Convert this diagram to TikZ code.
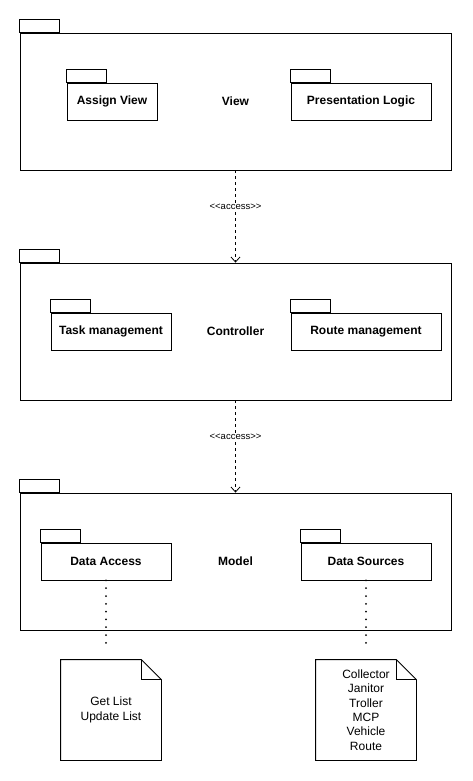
\documentclass[tikz,border=0pt]{standalone}
\usepackage{fontspec}
\setmainfont{Liberation Sans}
\usetikzlibrary{positioning}
\usetikzlibrary{arrows.meta}

\begin{document}
\begin{tikzpicture}[x=1pt, y=1pt, line width=0.8pt,
    pkg/.style = {draw, rectangle, inner sep=0pt, minimum width=431pt, minimum height=137pt, font=\fontsize{12}{14}\selectfont\bfseries},
    sub/.style = {draw, rectangle, inner sep=0pt, minimum height=37pt, font=\fontsize{12}{14}\selectfont\bfseries},
    note/.style = {rectangle, inner sep=0pt, minimum width=100pt, minimum height=100pt, align=center, font=\fontsize{12}{14.4}\selectfont},
    access/.style = {dash pattern=on 3pt off 3pt, -{Straight Barb[length=5pt, width=9pt, line width=0.8pt]}},
    stereo/.style = {fill=white, inner sep=1pt, pos=0.39, font=\fontsize{9.5}{11}\selectfont},
    trace/.style = {line width=2pt, line cap=round, dash pattern=on 0pt off 7.8pt, shorten >=10pt}]
    \useasboundingbox (0,0) rectangle (472,-781);
    % packages
    \node[pkg] (view) at (235.5,-101.5) {View};
    \node[pkg] (ctrl) at (235.5,-331.5) {Controller};
    \node[pkg] (model) at (235.5,-561.5) {Model};
    % sub packages
    \node[sub, minimum width=90pt, below right=50pt and 47pt of view.north west] (assign) {Assign View};
    \node[sub, minimum width=140pt, below left=50pt and 20pt of view.north east] (logic) {Presentation Logic};
    \node[sub, minimum width=120pt, below right=50pt and 31pt of ctrl.north west] (task) {Task management};
    \node[sub, minimum width=150pt, below left=50pt and 10pt of ctrl.north east] (route) {Route management};
    \node[sub, minimum width=130pt, below right=50pt and 21pt of model.north west] (dacc) {Data Access};
    \node[sub, minimum width=130pt, below left=50pt and 20pt of model.north east] (dsrc) {Data Sources};
    % tabs
    \foreach \p in {view, ctrl, model, assign, logic, task, route, dacc, dsrc}
        \draw (\p.north west) rectangle ++(40,13);
    % notes
    \node[note] (n1) at (111,-710) {Get List\\Update List};
    \node[note] (n2) at (366,-710) {Collector\\Janitor\\Troller\\MCP\\Vehicle\\Route};
    \foreach \n in {n1, n2} {
        \draw (\n.north west) -- ([xshift=-20pt]\n.north east) -- ([yshift=-20pt]\n.north east) -- (\n.south east) -- (\n.south west) -- cycle;
        \draw ([xshift=-20pt]\n.north east) |- ([yshift=-20pt]\n.north east);
    }
    % connectors
    \draw[access] (view) to node[stereo] {<{}<access>{}>} (ctrl);
    \draw[access] (ctrl) to node[stereo] {<{}<access>{}>} (model);
    \draw[trace] (dacc.south) -- (n1.north -| dacc.south);
    \draw[trace] (dsrc.south) -- (n2.north);
\end{tikzpicture}
\end{document}
